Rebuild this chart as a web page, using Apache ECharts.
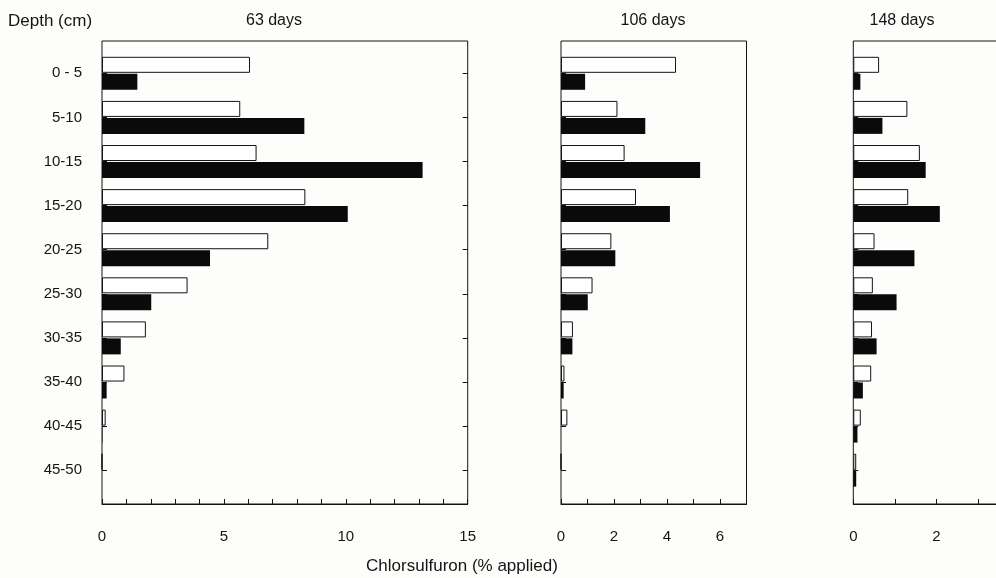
<!DOCTYPE html>
<html>
<head>
<meta charset="utf-8">
<title>Chlorsulfuron by depth</title>
<script src="https://cdn.jsdelivr.net/npm/echarts@6/dist/echarts.min.js"></script>
<style>
  html, body { margin: 0; padding: 0; background: #fdfdfb; }
  #chart { width: 996px; height: 578px; }
</style>
</head>
<body>
<div id="chart"></div>
<script>
// depth classes (cm)
const depths = ['0 - 5', '5-10', '10-15', '15-20', '20-25', '25-30', '30-35', '35-40', '40-45', '45-50'];

// % of applied chlorsulfuron, open (white) and filled (black) bars
const open63 = [6.07, 5.67, 6.34, 8.34, 6.82, 3.51, 1.80, 0.92, 0.15, 0];
const filled63 = [1.45, 8.30, 13.15, 10.08, 4.43, 2.02, 0.77, 0.19, 0.02, 0];
const open106 = [4.34, 2.13, 2.40, 2.83, 1.90, 1.19, 0.45, 0.13, 0.24, 0];
const filled106 = [0.91, 3.18, 5.25, 4.11, 2.05, 1.01, 0.43, 0.10, 0, 0];
const open148 = [0.62, 1.30, 1.60, 1.32, 0.51, 0.47, 0.45, 0.43, 0.18, 0.07];
const filled148 = [0.17, 0.70, 1.74, 2.08, 1.47, 1.04, 0.56, 0.23, 0.10, 0.07];

const dayTitles = ['63 days', '106 days', '148 days'];
const xMax = [15, 7, 6];
const xLabelStep = [5, 2, 2];

const openSets = [open63, open106, open148];
const filledSets = [filled63, filled106, filled148];

// panel placement in px
const panels = [
    { left: 102, width: 365.7, titleX: 274 },
    { left: 561, width: 185.5, titleX: 653 },
    { left: 853.3, width: 249.6, titleX: 902 }
];

const ink = '#141414';
const font = 'Arial, "Liberation Sans", Helvetica, sans-serif';

let chart = echarts.init(document.getElementById('chart'));

let grids = [], xAxes = [], yAxes = [], series = [];

panels.forEach(function (p, i) {
    // frame: box, bottom ticks and labels
    let fg = grids.length;
    grids.push({
        left: p.left, width: p.width, top: 41, height: 463,
        show: true, borderColor: ink, borderWidth: 1,
        backgroundColor: 'transparent', outerBoundsMode: 'none'
    });
    xAxes.push({
        gridIndex: fg, type: 'value', min: 0, max: xMax[i], interval: 1,
        axisLine: { show: true, lineStyle: { color: ink, width: 1 } },
        axisTick: { show: true, inside: true, length: 5, lineStyle: { color: ink } },
        splitLine: { show: false },
        axisLabel: {
            margin: 25, fontSize: 15, color: ink, fontFamily: font,
            formatter: function (v) { return v % xLabelStep[i] === 0 ? String(v) : ''; }
        }
    });
    yAxes.push({ gridIndex: fg, type: 'value', min: 0, max: 1, show: false });

    // bars
    let dg = grids.length;
    grids.push({ left: p.left, width: p.width, top: 51.25, height: 441, outerBoundsMode: 'none' });
    let xi = xAxes.length;
    xAxes.push({ gridIndex: dg, type: 'value', min: 0, max: xMax[i], show: false });
    let yi = yAxes.length;
    yAxes.push({
        gridIndex: dg, type: 'category', data: depths, inverse: true,
        axisLine: { show: false },
        axisTick: { show: true, inside: true, alignWithLabel: true, length: 5, lineStyle: { color: ink } },
        axisLabel: { show: i === 0, margin: 20, fontSize: 15, color: ink, fontFamily: font }
    });
    if (i === 0) {
        yAxes.push({
            gridIndex: dg, type: 'category', data: depths, inverse: true, position: 'right',
            axisLine: { show: false },
            axisTick: { show: true, inside: true, alignWithLabel: true, length: 5, lineStyle: { color: ink } },
            axisLabel: { show: false }
        });
    }

    series.push({
        name: 'open', type: 'bar', xAxisIndex: xi, yAxisIndex: yi,
        data: openSets[i], barWidth: 16, barGap: '6%',
        itemStyle: { color: '#ffffff', borderColor: ink, borderWidth: 1 }
    });
    series.push({
        name: 'filled', type: 'bar', xAxisIndex: xi, yAxisIndex: yi,
        data: filledSets[i], barWidth: 16, barGap: '6%',
        itemStyle: { color: '#0a0a0a' }
    });
});

function label(text, x, y, size, align) {
    return {
        type: 'text', x: x, y: y, silent: true,
        style: {
            text: text, fill: ink, font: size + 'px ' + font,
            align: align, textAlign: align,
            verticalAlign: 'middle', textVerticalAlign: 'middle'
        }
    };
}

let texts = panels.map(function (p, i) { return label(dayTitles[i], p.titleX, 21, 16, 'center'); });
texts.push(label('Depth (cm)', 8, 21, 17, 'left'));
texts.push(label('Chlorsulfuron (% applied)', 462, 566, 17, 'center'));

chart.setOption({
    backgroundColor: '#fdfdfb',
    animation: false,
    grid: grids,
    xAxis: xAxes,
    yAxis: yAxes,
    series: series,
    graphic: texts
});
</script>
</body>
</html>
